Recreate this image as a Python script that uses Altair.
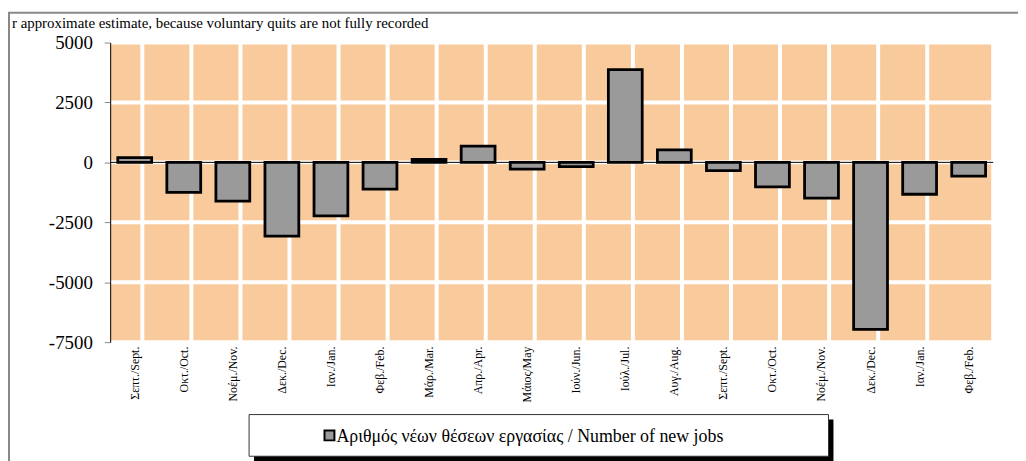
import json
import altair as alt
import pandas as pd

# ---- data ----
labels = ["Σεπτ./Sept.", "Οκτ./Oct.", "Νοέμ./Nov.", "Δεκ./Dec.", "Ιαν./Jan.", "Φεβ./Feb.",
          "Μάρ./Mar.", "Απρ./Apr.", "Μάιος/May", "Ιούν./Jun.", "Ιούλ./Jul.", "Αυγ./Aug.",
          "Σεπτ./Sept.", "Οκτ./Oct.", "Νοέμ./Nov.", "Δεκ./Dec.", "Ιαν./Jan.", "Φεβ./Feb."]
values = [200, -1250, -1620, -3080, -2230, -1120, 120, 680, -280, -180, 3870, 520,
          -340, -1020, -1490, -6970, -1330, -570]
y_ticks = [-7500, -5000, -2500, 0, 2500, 5000]
series_name = "Αριθμός νέων θέσεων εργασίας / Number of new jobs"
note_text = "r approximate estimate, because voluntary quits are not fully recorded"

W, H = 890, 302
STEP = W / len(labels)
FONT = "Liberation Serif"

df = pd.DataFrame({"idx": list(range(len(labels))), "label": labels, "value": values})
ticks_df = pd.DataFrame({"v": y_ticks})
one = alt.Data(values=[{"a": 1}])

label_expr = json.dumps(labels, ensure_ascii=False) + "[datum.value]"

x_enc = alt.X("idx:O",
              scale=alt.Scale(paddingInner=0.31, paddingOuter=0.155),
              axis=alt.Axis(title=None, labelExpr=label_expr, labelAngle=-90,
                            labelFontSize=12, labelFont=FONT, labelColor="black",
                            domain=False, ticks=False, grid=False, labelPadding=4))
y_scale = alt.Scale(domain=[-7500, 5000], nice=False)

# white vertical separators between categories
vgrid = alt.Chart(df).mark_rule(color="white", strokeWidth=4).encode(
    x=x_enc, xOffset=alt.value(-STEP / 2))
vgrid_end = alt.Chart(one).mark_rule(color="white", strokeWidth=4).encode(x=alt.value(W))

# white horizontal grid
hgrid = alt.Chart(ticks_df).mark_rule(color="white", strokeWidth=4).encode(
    y=alt.Y("v:Q", scale=y_scale))

bars = alt.Chart(df).mark_bar(color="#9a9a9a", stroke="black", strokeWidth=2.8).encode(
    x=x_enc,
    y=alt.Y("value:Q", scale=y_scale,
            axis=alt.Axis(title=None, values=y_ticks, labelExpr="'' + datum.value",
                          grid=False, domainColor="black", domainWidth=1,
                          tickColor="#888888", tickSize=6, labelPadding=12,
                          labelFont=FONT, labelFontSize=19, labelColor="black", zindex=1)),
)

zero = alt.Chart(one).mark_rule(color="black", strokeWidth=1).encode(
    y=alt.Y("z:Q", scale=y_scale)
).transform_calculate(z="0")

# outer frame
frame = alt.Chart(one).mark_rect(fill="white", fillOpacity=0, stroke="#888888", strokeWidth=2).encode(
    x=alt.value(-102), x2=alt.value(960), y=alt.value(-30), y2=alt.value(450))

note = alt.Chart(one).mark_text(align="left", baseline="alphabetic", font=FONT,
                                fontSize=15, color="black").encode(
    x=alt.value(-99), y=alt.value(-15), text=alt.value(note_text))

# legend box
leg_shadow = alt.Chart(one).mark_rect(fill="black").encode(
    x=alt.value(145), x2=alt.value(729), y=alt.value(380), y2=alt.value(422))
leg_box = alt.Chart(one).mark_rect(fill="white", stroke="#333333", strokeWidth=1).encode(
    x=alt.value(140), x2=alt.value(724), y=alt.value(375), y2=alt.value(417))
leg_sym = alt.Chart(one).mark_rect(fill="#9a9a9a", stroke="black", strokeWidth=2).encode(
    x=alt.value(216), x2=alt.value(226), y=alt.value(391), y2=alt.value(401))
leg_text = alt.Chart(one).mark_text(align="left", baseline="alphabetic", font=FONT,
                                    fontSize=18, color="black").encode(
    x=alt.value(228), y=alt.value(403), text=alt.value(series_name))

chart = alt.layer(
    frame, note, vgrid, vgrid_end, hgrid, bars, zero,
    leg_shadow, leg_box, leg_sym, leg_text
).properties(
    width=W, height=H,
    autosize=alt.AutoSizeParams(type="none"),
    padding={"left": 103, "top": 33, "right": 25, "bottom": 118},
).configure(
    background="white",
    view=alt.ViewConfig(fill="#F9CB9C", stroke=None),
)

chart.save("out.html", embed_options={"renderer": "svg", "actions": False})
